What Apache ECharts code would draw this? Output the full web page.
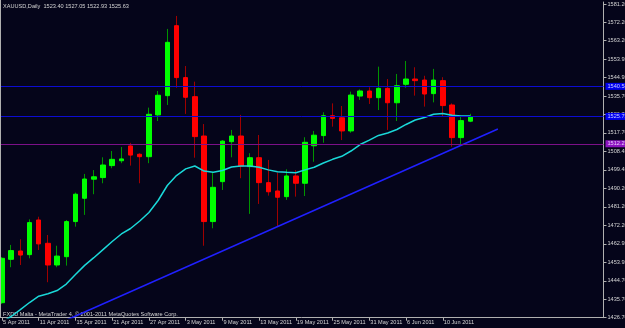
<!DOCTYPE html>
<html>
<head>
<meta charset="utf-8">
<script src="https://cdn.jsdelivr.net/npm/echarts@6/dist/echarts.min.js"></script>
<style>
  html, body { margin: 0; padding: 0; background: #05051a; }
  #chart { width: 625px; height: 328px; }
</style>
</head>
<body>
<div id="chart"></div>
<script>
// XAUUSD daily bars, 5 Apr - 15 Jun 2011
const dates = [
  "5 Apr 2011", "6 Apr 2011", "7 Apr 2011", "8 Apr 2011",
  "11 Apr 2011", "12 Apr 2011", "13 Apr 2011", "14 Apr 2011", "15 Apr 2011",
  "18 Apr 2011", "19 Apr 2011", "20 Apr 2011", "21 Apr 2011", "22 Apr 2011",
  "25 Apr 2011", "26 Apr 2011", "27 Apr 2011", "28 Apr 2011", "29 Apr 2011",
  "2 May 2011", "3 May 2011", "4 May 2011", "5 May 2011", "6 May 2011",
  "9 May 2011", "10 May 2011", "11 May 2011", "12 May 2011", "13 May 2011",
  "16 May 2011", "17 May 2011", "18 May 2011", "19 May 2011", "20 May 2011",
  "23 May 2011", "24 May 2011", "25 May 2011", "26 May 2011", "27 May 2011",
  "30 May 2011", "31 May 2011", "1 Jun 2011", "2 Jun 2011", "3 Jun 2011",
  "6 Jun 2011", "7 Jun 2011", "8 Jun 2011", "9 Jun 2011", "10 Jun 2011",
  "13 Jun 2011", "14 Jun 2011", "15 Jun 2011"
];
const opens = [1433.9, 1455.3, 1459.4, 1457.6, 1474.7, 1463.2, 1452.5, 1456.6, 1473.9, 1485.4,
  1494.8, 1495.6, 1501.5, 1503.9, 1511.2, 1507.1, 1505.9, 1526.5, 1536.0, 1570.5,
  1544.9, 1535.5, 1516.1, 1473.9, 1493.6, 1513.3, 1516.1, 1501.0, 1505.4, 1493.1,
  1489.0, 1486.2, 1496.4, 1492.8, 1511.3, 1516.3, 1526.1, 1525.1, 1518.6, 1535.8,
  1538.3, 1535.0, 1539.6, 1532.5, 1541.6, 1544.2, 1543.7, 1537.0, 1543.4, 1531.4,
  1515.3, 1523.40];
const highs = [1456.4, 1462.4, 1465.2, 1475.0, 1476.3, 1467.3, 1462.0, 1474.7, 1488.2, 1497.4,
  1499.3, 1505.6, 1508.7, 1510.7, 1512.7, 1507.6, 1530.1, 1538.3, 1568.9, 1575.3,
  1550.6, 1542.9, 1522.0, 1498.2, 1514.1, 1519.1, 1526.5, 1507.6, 1516.6, 1504.3,
  1498.0, 1499.7, 1499.3, 1515.5, 1518.6, 1527.8, 1532.2, 1530.9, 1538.0, 1539.1,
  1540.1, 1550.3, 1544.2, 1546.7, 1553.1, 1550.0, 1545.8, 1549.2, 1545.1, 1532.2,
  1525.6, 1527.05];
const lows = [1433.3, 1451.4, 1452.5, 1455.8, 1459.9, 1444.0, 1451.4, 1452.2, 1471.4, 1477.2,
  1487.4, 1492.8, 1500.2, 1502.7, 1501.5, 1492.8, 1502.7, 1523.5, 1531.4, 1539.9,
  1527.0, 1505.4, 1462.0, 1470.6, 1489.5, 1505.6, 1495.3, 1477.7, 1482.6, 1486.7,
  1471.7, 1484.6, 1486.2, 1486.5, 1503.4, 1512.8, 1520.7, 1514.1, 1517.7, 1533.9,
  1531.9, 1528.9, 1519.1, 1523.5, 1539.9, 1536.0, 1530.6, 1532.7, 1525.6, 1510.8,
  1511.7, 1522.93];
const closes = [1455.8, 1459.6, 1457.4, 1473.4, 1462.9, 1452.5, 1456.9, 1473.9, 1487.4, 1494.9,
  1496.0, 1501.8, 1504.6, 1504.8, 1506.7, 1505.9, 1526.8, 1536.2, 1562.3, 1544.9,
  1535.2, 1515.8, 1473.9, 1490.8, 1513.6, 1516.1, 1501.3, 1505.4, 1493.1, 1488.6,
  1485.9, 1496.4, 1492.8, 1513.0, 1516.5, 1526.1, 1524.8, 1518.6, 1536.3, 1538.3,
  1535.0, 1539.6, 1532.5, 1540.9, 1544.2, 1543.4, 1536.8, 1543.7, 1531.1, 1515.3,
  1523.7, 1525.63];
// moving average
const maValues = [1424.4, 1427.1, 1430.5, 1434.0, 1437.1, 1438.3, 1439.9, 1443.1, 1447.8, 1452.3,
  1456.1, 1460.1, 1464.1, 1467.8, 1470.5, 1474.2, 1478.4, 1484.3, 1491.7, 1496.6,
  1499.9, 1501.3, 1498.8, 1498.2, 1499.1, 1500.8, 1501.3, 1501.3, 1500.7, 1499.4,
  1498.5, 1498.2, 1498.0, 1499.4, 1500.7, 1502.8, 1504.6, 1506.1, 1508.7, 1511.9,
  1514.1, 1516.4, 1517.6, 1519.3, 1521.8, 1524.0, 1525.2, 1526.8, 1527.2, 1526.3,
  1526.0, 1526.0];
const yTicks = [1581.20, 1572.20, 1563.20, 1553.95, 1544.95, 1535.70, 1526.70, 1517.70, 1508.45,
  1499.45, 1490.20, 1481.20, 1472.20, 1462.95, 1453.95, 1444.70, 1435.70, 1426.70];
const blueLevels = [1540.58, 1525.75];
const purpleLevels = [1512.27];
// trend line anchors: [bar index, price]
const trendPoints = [[7, 1425.3], [54, 1519.6]];

const emptySlots = 14; // chart shift on the right
const categories = dates.concat(new Array(emptySlots).fill(""));

const upBody = "#00ff00", downBody = "#ff0000";
const upWick = "#009400", downWick = "#a00000";
const txt = "#d4d4d4", axisCol = "#b0b0b0";
const font = "'Liberation Sans', Arial, sans-serif";
const fs = 5.6;

let wickData = [], bodyData = [];
for (let i = 0; i < dates.length; i++) {
  let o = opens[i], c = closes[i];
  wickData.push([o, c, lows[i], highs[i]]);
  bodyData.push([o, c, Math.min(o, c), Math.max(o, c)]);
}

function levelLine(values, lineColor, boxColor, textColor) {
  return {
    symbol: ["none", "none"],
    silent: true,
    animation: false,
    lineStyle: { color: lineColor, width: 1, type: "solid" },
    label: {
      show: true,
      position: "end",
      distance: 2,
      formatter: p => p.value.toFixed(2),
      backgroundColor: boxColor,
      color: textColor,
      fontSize: fs,
      fontFamily: font,
      padding: [1, 2, 0, 2],
      lineHeight: 6
    },
    emphasis: { disabled: true },
    data: values.map(v => ({ yAxis: v }))
  };
}

const chart = echarts.init(document.getElementById("chart"));
const last = dates.length - 1;

let option = {
  backgroundColor: "#05051a",
  animation: false,
  textStyle: { fontFamily: font },
  grid: { left: -2.6, right: 21.5, top: 2, bottom: 10.3, containLabel: false, outerBoundsMode: "none" },
  xAxis: {
    type: "category",
    data: categories,
    boundaryGap: true,
    axisLine: { show: true, lineStyle: { color: axisCol, width: 1 } },
    axisTick: {
      show: true,
      alignWithLabel: true,
      length: 3,
      interval: i => i % 4 === 0 && i < dates.length,
      lineStyle: { color: axisCol }
    },
    axisLabel: {
      interval: i => i % 4 === 0 && i < dates.length,
      align: "left",
      margin: 2,
      padding: [0, 0, 0, 1],
      color: txt,
      fontSize: fs,
      hideOverlap: false
    },
    splitLine: { show: false }
  },
  yAxis: {
    type: "value",
    position: "right",
    min: 1426.51,
    max: 1582.18,
    scale: true,
    axisLine: { show: true, lineStyle: { color: axisCol, width: 1 } },
    axisTick: { show: true, length: 3, customValues: yTicks, lineStyle: { color: axisCol } },
    axisLabel: {
      customValues: yTicks,
      formatter: v => v.toFixed(2),
      margin: 4,
      color: txt,
      fontSize: fs
    },
    splitLine: { show: false }
  },
  graphic: [
    {
      type: "text", left: 3, top: 3,
      style: {
        text: "XAUUSD,Daily  " + [opens[last], highs[last], lows[last], closes[last]].map(v => v.toFixed(2)).join(" "),
        fill: txt, fontSize: fs, fontFamily: font
      }
    },
    {
      type: "text", left: 3, top: 311,
      style: {
        text: "FXDD Malta - MetaTrader 4, \u00a9 2001-2011 MetaQuotes Software Corp.",
        fill: txt, fontSize: fs, fontFamily: font
      }
    },
    {
      type: "line", z: 100,
      shape: { x1: 0.5, y1: 0, x2: 0.5, y2: 318 },
      style: { stroke: axisCol, lineWidth: 1 }
    }
  ],
  series: [
    {
      name: "wicks",
      type: "candlestick",
      data: wickData,
      barWidth: 0.1,
      silent: true,
      itemStyle: {
        color: upWick, color0: downWick,
        borderColor: upWick, borderColor0: downWick, borderWidth: 1
      },
      markLine: levelLine(blueLevels, "#0c0cd2", "#0000f0", "#c8ccff")
    },
    {
      name: "bodies",
      type: "candlestick",
      data: bodyData,
      barWidth: 5,
      silent: true,
      itemStyle: {
        color: upBody, color0: downBody,
        borderColor: upBody, borderColor0: downBody, borderWidth: 1
      },
      markLine: levelLine(purpleLevels, "#7c1088", "#8c12c0", "#e8c8ff")
    },
    {
      name: "MA",
      type: "line",
      data: maValues,
      symbol: "none",
      silent: true,
      z: 3,
      lineStyle: { color: "#1ad8d8", width: 1.5 }
    },
    {
      name: "trend",
      type: "line",
      data: trendPoints,
      symbol: "none",
      silent: true,
      z: 3,
      lineStyle: { color: "#2020ff", width: 1.6 }
    }
  ]
};

chart.setOption(option);
</script>
</body>
</html>
